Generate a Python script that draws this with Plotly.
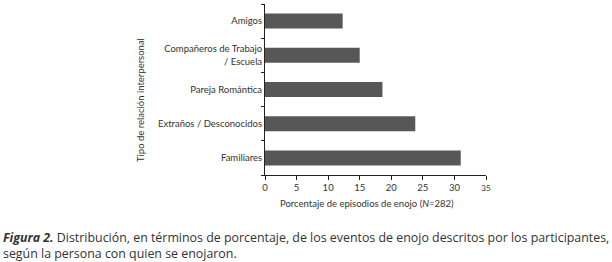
import plotly.graph_objects as go

categories = ["Familiares", "Extraños / Desconocidos", "Pareja Romántica",
              "Compañeros de Trabajo<br>/ Escuela", "Amigos"]
values = [31.0, 23.8, 18.6, 15.0, 12.3]
x_tickvals = [0, 5, 10, 15, 20, 25, 30, 35]
x_ticktext = ["0", "5", "10", "15", "20", "25", "30", "<span style='font-size:8px'>35</span>"]

W, H = 612, 262
L, R, T, B = 265, 612 - 486, 4, 262 - 175

fig = go.Figure(go.Bar(
    x=values, y=categories, orientation="h",
    marker=dict(color="#575757", line=dict(width=0)),
    width=0.44,
))

FAM = "Lato, Open Sans, sans-serif"
axis_font = dict(family=FAM, size=9.5, color="#333333")

fig.update_layout(
    width=W, height=H,
    margin=dict(l=L, r=R, t=T, b=B, pad=0),
    paper_bgcolor="white", plot_bgcolor="white",
    showlegend=False,
    font=axis_font,
    xaxis=dict(range=[0, 35], tickvals=x_tickvals, ticktext=x_ticktext,
               showgrid=False, zeroline=False, showline=True, linecolor="#222222",
               linewidth=1, ticks="outside", ticklen=4, tickcolor="#222222",
               tickfont=axis_font, fixedrange=True, automargin=False),
    yaxis=dict(type="category", categoryorder="array", categoryarray=categories,
               range=[-0.5, 4.5], tickson="boundaries",
               showgrid=False, zeroline=False, showline=True, linecolor="#222222",
               linewidth=1, ticks="outside", ticklen=3, tickcolor="#222222",
               tickfont=axis_font, fixedrange=True, automargin=False),
)

pw = W - L - R
ph = H - T - B

def px(xp):
    return (xp - L) / pw

def py(yp):
    return (H - B - yp) / ph

fig.add_annotation(text="Porcentaje de episodios de enojo (<i>N</i>=282)",
                   x=px(367), y=py(203), xref="paper", yref="paper",
                   showarrow=False, font=dict(family=FAM, size=9.5, color="#333333"),
                   xanchor="center", yanchor="middle")

fig.add_annotation(text="Tipo de relación interpersonal", textangle=-90,
                   x=px(140), y=py(100), xref="paper", yref="paper",
                   showarrow=False, font=dict(family=FAM, size=9.5, color="#333333"),
                   xanchor="center", yanchor="middle")

CAP = dict(family="Open Sans, Lato, sans-serif", size=12.4, color="#333333")
fig.add_annotation(text="<b><i>Figura 2.</i></b> Distribución, en términos de porcentaje, de los eventos de enojo descritos por los participantes,",
                   x=px(1), y=py(237), xref="paper", yref="paper",
                   showarrow=False, font=CAP,
                   xanchor="left", yanchor="middle", align="left")
fig.add_annotation(text="según la persona con quien se enojaron.",
                   x=px(1), y=py(253), xref="paper", yref="paper",
                   showarrow=False, font=CAP,
                   xanchor="left", yanchor="middle", align="left")

fig.write_html("out.html", config={"displayModeBar": False, "staticPlot": True},
               post_script="document.body.style.margin='0';document.body.style.overflow='hidden';")
